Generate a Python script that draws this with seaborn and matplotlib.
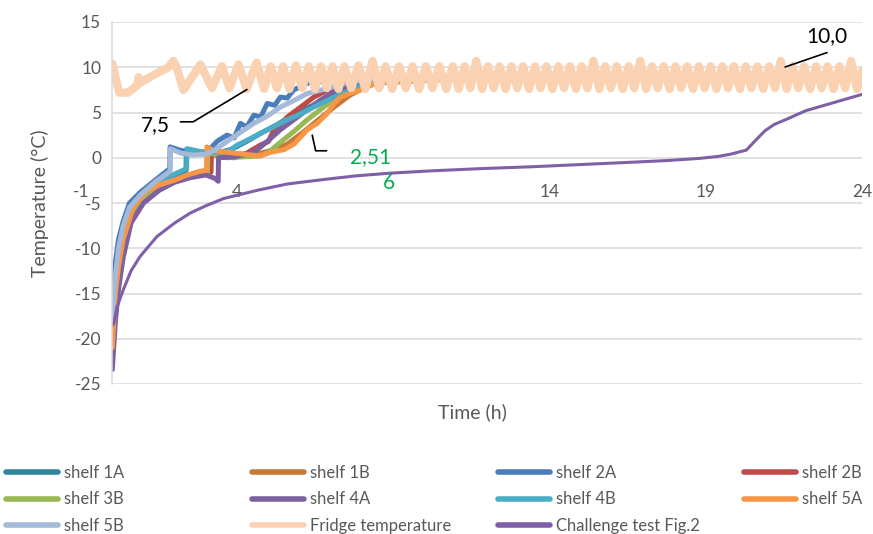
import pandas as pd
import numpy as np
import seaborn as sns
import matplotlib.pyplot as plt
from matplotlib.lines import Line2D

# ---- data (time in h, temperature in degC) ----
shelf_1A_t = [0, 0.1, 0.2, 0.35, 0.6, 1.0, 1.5, 2.0, 2.36, 2.37, 2.8, 3.3, 3.8, 4.3, 4.8, 5.3, 5.8, 6.3, 6.8, 7.3, 7.8, 8.3, 12, 16, 20, 24]
shelf_1A_T = [-18.5, -14.5, -11.5, -8.5, -6.0, -4.2, -3.0, -2.0, -1.4, 0.9, 0.6, 0.5, 0.9, 1.8, 2.8, 3.7, 4.8, 5.6, 6.4, 7.2, 7.9, 8.6, 8.9, 8.8, 8.9, 9.0]

shelf_1B_t = [0, 0.1, 0.2, 0.35, 0.7, 1.1, 1.6, 2.2, 2.8, 3.04, 3.05, 3.5, 4.0, 4.6, 5.1, 5.6, 6.1, 6.6, 7.1, 7.6, 8.1, 8.6, 12, 16, 20, 24]
shelf_1B_T = [-21.0, -15.5, -12.5, -9.5, -5.6, -3.9, -3.0, -2.2, -1.6, -1.4, 1.0, 0.6, 0.4, 0.4, 0.8, 1.5, 2.8, 4.2, 5.6, 6.9, 7.8, 8.5, 9.0, 8.9, 9.0, 9.0]

shelf_2A_t = [0, 0.1, 0.2, 0.35, 0.55, 0.9, 1.4, 1.84, 1.85, 2.2, 2.6, 3.0, 3.35, 3.67, 3.9, 4.1, 4.3, 4.53, 4.75, 4.96, 5.2, 5.38, 5.6, 5.81, 6.3, 7.0, 8.0, 12, 16, 20, 24]
shelf_2A_T = [-17.0, -11.5, -9.0, -7.0, -5.0, -3.8, -2.4, -1.2, 1.2, 0.8, 0.6, 0.5, 1.8, 2.5, 2.2, 3.8, 3.4, 4.7, 4.5, 6.0, 5.8, 6.7, 6.6, 7.5, 8.3, 8.5, 8.8, 9.0, 8.9, 9.0, 9.1]

shelf_2B_t = [0, 0.1, 0.2, 0.35, 0.6, 1.0, 1.5, 2.0, 2.5, 3.0, 3.16, 3.17, 3.5, 3.9, 4.3, 4.74, 5.0, 5.17, 5.4, 5.6, 6.03, 6.45, 6.9, 7.5, 8.2, 12, 16, 20, 24]
shelf_2B_T = [-22.0, -17.0, -13.0, -9.5, -6.5, -4.5, -3.2, -2.4, -2.0, -1.8, -1.6, 0.4, 0.1, 0.0, 0.5, 1.4, 1.8, 3.1, 3.6, 4.5, 5.6, 6.7, 7.5, 8.1, 8.6, 9.0, 8.9, 9.0, 9.0]

shelf_3B_t = [0, 0.1, 0.2, 0.35, 0.7, 1.1, 1.6, 2.2, 2.8, 3.05, 3.06, 3.67, 4.2, 4.74, 5.0, 5.38, 5.81, 6.24, 6.77, 7.2, 7.63, 8.2, 8.8, 12, 16, 20, 24]
shelf_3B_T = [-20.5, -15.5, -12.5, -9.5, -5.8, -4.0, -3.0, -2.3, -1.7, -1.6, 0.6, 0.0, 0.1, 0.2, 0.6, 1.7, 2.9, 4.2, 5.6, 6.7, 7.5, 8.0, 8.6, 8.9, 9.0, 8.9, 9.0]

shelf_4A_t = [0, 0.1, 0.2, 0.35, 0.6, 1.0, 1.5, 2.0, 2.5, 3.0, 3.3, 3.39, 3.4, 3.9, 4.53, 4.96, 5.38, 5.81, 6.24, 6.67, 7.1, 7.6, 8.2, 12, 16, 20, 24]
shelf_4A_T = [-23.4, -18.0, -14.5, -11.0, -7.2, -5.0, -3.6, -2.7, -2.2, -1.9, -2.3, -2.6, 0.0, 0.1, 0.6, 1.8, 3.1, 4.2, 5.3, 6.4, 7.3, 8.0, 8.6, 8.9, 8.9, 9.0, 8.8]

shelf_4B_t = [0, 0.1, 0.2, 0.35, 0.6, 1.0, 1.5, 2.0, 2.38, 2.39, 2.8, 3.3, 3.7, 4.0, 4.3, 4.74, 5.1, 5.6, 6.0, 6.45, 7.1, 7.63, 8.2, 12, 16, 20, 24]
shelf_4B_T = [-18.0, -13.5, -10.5, -7.8, -5.6, -3.9, -2.7, -1.8, -1.2, 1.0, 0.7, 0.6, 0.7, 1.4, 1.9, 2.7, 3.3, 4.2, 4.8, 5.6, 6.7, 7.5, 8.2, 8.9, 9.0, 8.9, 9.0]

shelf_5A_t = [0, 0.1, 0.2, 0.35, 0.68, 1.1, 1.5, 1.97, 2.4, 2.8, 3.02, 3.03, 3.24, 3.67, 4.2, 4.74, 5.06, 5.5, 5.81, 6.03, 6.24, 6.56, 6.88, 7.1, 7.3, 7.6, 7.95, 8.5, 12, 16, 20, 24]
shelf_5A_T = [-21.0, -15.0, -12.0, -9.0, -5.4, -3.7, -3.0, -2.5, -1.9, -1.5, -1.4, 1.2, 0.8, 0.6, 0.4, 0.2, 0.6, 0.9, 1.5, 2.3, 3.1, 3.8, 4.9, 6.0, 6.7, 7.1, 7.5, 8.3, 9.0, 8.9, 9.0, 8.9]

shelf_5B_t = [0, 0.1, 0.2, 0.35, 0.55, 0.9, 1.4, 1.85, 1.86, 2.2, 2.6, 3.0, 3.3, 3.67, 4.1, 4.53, 4.96, 5.38, 5.8, 6.24, 6.88, 7.5, 8.2, 12, 16, 20, 24]
shelf_5B_T = [-17.6, -13.0, -10.0, -7.5, -5.5, -4.1, -2.6, -1.5, 1.0, 0.5, 0.3, 0.4, 0.9, 1.8, 2.8, 3.8, 4.6, 5.6, 6.3, 7.1, 7.65, 8.3, 8.7, 8.9, 9.0, 8.9, 9.0]

fridge_t = [0.00, 0.22, 0.50, 0.80, 0.84, 0.90, 1.30, 1.80, 1.95, 2.05, 2.28, 2.82, 3.19, 3.51, 3.75, 4.04, 4.30, 4.62, 4.86, 5.07, 5.27,
            5.47, 5.67, 5.88, 6.08, 6.29, 6.49, 6.68, 6.87, 7.05, 7.24, 7.43, 7.65, 7.88, 8.10, 8.33, 8.54, 8.75, 8.96,
            9.18, 9.40, 9.61, 9.82, 10.04, 10.25, 10.47, 10.69,
            10.90, 11.09, 11.28, 11.46, 11.65, 11.84, 12.03, 12.21, 12.40, 12.59, 12.78, 12.96, 13.15, 13.34, 13.53, 13.71,
            13.90, 14.09, 14.28, 14.46, 14.65, 14.84, 15.03, 15.21, 15.40, 15.59, 15.78, 15.96, 16.15, 16.34, 16.53, 16.71,
            16.90, 17.09, 17.28, 17.46, 17.65, 17.84, 18.03, 18.21, 18.40, 18.59, 18.78, 18.96, 19.15, 19.34, 19.53, 19.71,
            19.90, 20.09, 20.28, 20.46, 20.65, 20.84, 21.03, 21.21, 21.40, 21.59, 21.78, 21.96, 22.15, 22.34, 22.53, 22.71,
            22.90, 23.09, 23.28, 23.46, 23.65, 23.84, 24.00]
fridge_T = [10.4, 7.2, 7.2, 8.0, 8.9, 8.3, 9.1, 10.0, 10.7, 10.1, 7.5, 10.3, 7.7, 10.1, 7.7, 10.3, 7.6, 10.5, 7.6, 10.1, 7.7,
            10.1, 7.6, 10.2, 7.7, 10.1, 7.6, 10.1, 7.7, 10.1, 7.6, 10.1, 7.7, 10.2, 7.6, 10.7, 7.7, 10.1, 7.6,
            10.1, 7.7, 10.1, 7.6, 10.1, 7.7, 10.1, 7.6,
            10.1, 7.6, 10.1, 7.7, 10.7, 7.6, 10.1, 7.7, 10.1, 7.6, 10.1, 7.7, 10.1, 7.6, 10.1, 7.7,
            10.1, 7.6, 10.1, 7.7, 10.1, 7.6, 10.1, 7.7, 10.7, 7.6, 10.1, 7.7, 10.1, 7.6, 10.1, 7.7,
            10.7, 7.6, 10.1, 7.7, 10.1, 7.6, 10.1, 7.7, 10.1, 7.6, 10.1, 7.7, 10.1, 7.6, 10.1, 7.7,
            10.1, 7.6, 10.1, 7.7, 10.1, 7.6, 10.1, 7.7, 10.7, 7.6, 10.1, 7.7, 10.1, 7.6, 10.1, 7.7,
            10.1, 7.6, 10.1, 7.7, 10.7, 7.6, 9.6]

challenge_t = [0, 0.05, 0.15, 0.35, 0.6, 0.89, 1.43, 2.0, 2.5, 3.0, 3.57, 4.64, 5.6, 6.78, 7.8, 8.9, 10.2, 11.8, 13.4, 15.0,
               16.6, 17.8, 18.8, 19.4, 19.8, 20.3, 20.6, 20.9, 21.2, 21.55, 22.2, 23.0, 23.5, 24.0]
challenge_T = [-18.5, -18.3, -16.5, -14.6, -12.5, -10.9, -8.7, -7.2, -6.1, -5.3, -4.5, -3.6, -2.9, -2.4, -2.0, -1.7, -1.45, -1.2, -1.0, -0.75,
               -0.5, -0.3, -0.07, 0.15, 0.4, 0.85, 1.95, 3.0, 3.7, 4.2, 5.2, 6.0, 6.5, 7.0]

shelf_names = ["shelf 1A", "shelf 1B", "shelf 2A", "shelf 2B", "shelf 3B",
               "shelf 4A", "shelf 4B", "shelf 5A", "shelf 5B"]
shelf_times = [shelf_1A_t, shelf_1B_t, shelf_2A_t, shelf_2B_t, shelf_3B_t,
               shelf_4A_t, shelf_4B_t, shelf_5A_t, shelf_5B_t]
shelf_temps = [shelf_1A_T, shelf_1B_T, shelf_2A_T, shelf_2B_T, shelf_3B_T,
               shelf_4A_T, shelf_4B_T, shelf_5A_T, shelf_5B_T]
shelf_colours = ["#31849B", "#C77A35", "#4A7EBB", "#BE4B48", "#98B954",
                 "#7D60A0", "#4BACC6", "#F79646", "#A5B9D9"]
fridge_colour = "#FAD2B2"
challenge_colour = "#7F60A8"

rows = []
for name, tt, vv in zip(shelf_names, shelf_times, shelf_temps):
    for t, v in zip(tt, vv):
        rows.append((name, t, v))
shelf_df = pd.DataFrame(rows, columns=["series", "time", "temp"])
fridge_df = pd.DataFrame({"time": fridge_t, "temp": fridge_T})
challenge_df = pd.DataFrame({"time": challenge_t, "temp": challenge_T})

sns.set_style("white")
plt.rcParams['font.family'] = ['Lato', 'DejaVu Sans']
plt.rcParams['axes.unicode_minus'] = False
grey = "#595959"

fig = plt.figure(figsize=(8.73, 5.34), dpi=100)
ax = fig.add_axes([112.3 / 873, 1 - 384 / 534, (862 - 112.3) / 873, (384 - 22) / 534])

sns.lineplot(data=shelf_df, x="time", y="temp", hue="series", hue_order=shelf_names,
             palette=dict(zip(shelf_names, shelf_colours)), sort=False, estimator=None,
             linewidth=3.6, legend=False, ax=ax)
sns.lineplot(data=fridge_df, x="time", y="temp", color=fridge_colour, sort=False,
             estimator=None, linewidth=6.0, legend=False, ax=ax)
sns.lineplot(data=challenge_df, x="time", y="temp", color=challenge_colour, sort=False,
             estimator=None, linewidth=2.2, legend=False, ax=ax)
for ln in ax.get_lines():
    ln.set_solid_joinstyle("round")
    ln.set_solid_capstyle("round")

ax.set_xlim(0, 24)
ax.set_ylim(-25, 15)
ax.set_yticks(range(-25, 16, 5))
ax.set_xticks([4, 14, 19, 24])
ax.grid(axis="y", color="#D9D9D9", linewidth=1.1)
ax.set_axisbelow(True)
for s in ["top", "right"]:
    ax.spines[s].set_visible(False)
ax.spines["left"].set_color("#D9D9D9")
ax.spines["left"].set_linewidth(1.1)
ax.spines["bottom"].set_position(("data", -2.85))
ax.spines["bottom"].set_visible(False)
ax.tick_params(axis="both", length=0, labelsize=12.5, labelcolor=grey)
ax.tick_params(axis="x", pad=0)
ax.tick_params(axis="y", pad=8)
ax.set_xlabel("")
ax.set_ylabel("")
ax.text(-1.0, -3.8, "-1", ha="center", va="center", fontsize=12.5, color=grey, clip_on=False)

fig.text(472 / 873, 1 - 412 / 534, "Time (h)", ha="center", va="center", fontsize=14, color=grey)
fig.text(40 / 873, 1 - 203 / 534, "Temperature (°C)", ha="center", va="center",
         rotation=90, fontsize=14, color=grey)

# annotations
ax.text(1.37, 3.6, "7,5", ha="center", va="center", fontsize=15, color="black")
ax.plot([2.18, 2.59, 4.31], [3.97, 3.97, 7.54], color="black", linewidth=1.2)
ax.text(22.87, 13.4, "10,0", ha="center", va="center", fontsize=15, color="black")
ax.plot([21.54, 22.88], [10.03, 11.62], color="black", linewidth=1.2)
ax.plot([6.40, 6.51, 6.86], [2.5, 0.77, 0.77], color="black", linewidth=1.2)
ax.text(8.28, 0.1, "2,51", ha="center", va="center", fontsize=15, color="#00B050")
ax.text(8.86, -2.8, "6", ha="center", va="center", fontsize=15, color="#00B050")

# legend laid out in four fixed columns like the original
labels = shelf_names + ["Fridge temperature", "Challenge test Fig.2"]
colours = shelf_colours + [fridge_colour, challenge_colour]
handles = [Line2D([], [], color=c, linewidth=4) for c in colours]
col_x = [6, 252, 498, 744]
for c in range(4):
    idx = list(range(c, len(labels), 4))
    fig.legend([handles[i] for i in idx], [labels[i] for i in idx],
               loc="upper left", bbox_to_anchor=(col_x[c] / 873, 1 - 465 / 534),
               frameon=False, fontsize=12, handlelength=3.1, handletextpad=0.4,
               labelspacing=0.62, borderpad=0, borderaxespad=0, labelcolor=grey)

fig.savefig("out.png", dpi=100)
